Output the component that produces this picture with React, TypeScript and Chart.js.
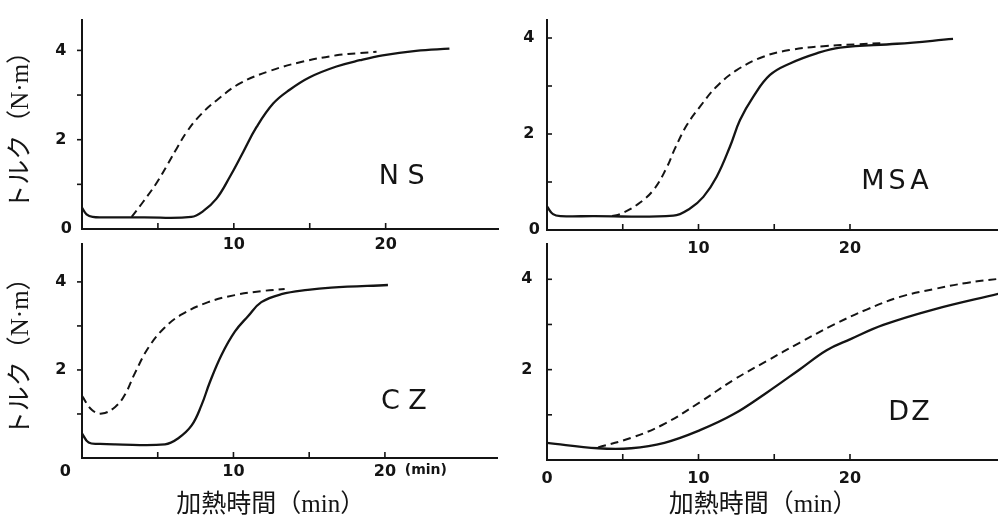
import React, { useEffect, useRef } from "react";
import { Chart, registerables } from "chart.js";

Chart.register(...registerables);

// ---------- Data (time in min, torque in N·m) ----------
// NS
const nsSolidT = [0, 0.3, 0.7, 1.5, 4, 7.2, 7.98, 8.86, 9.74, 10.61, 11.49, 12.59, 13.68, 15.0, 16.76, 18.3, 19.8, 22.0, 24.2];
const nsSolidV = [0.48, 0.33, 0.27, 0.26, 0.26, 0.27, 0.4, 0.68, 1.17, 1.72, 2.28, 2.81, 3.12, 3.4, 3.64, 3.78, 3.89, 3.99, 4.04];
const nsDashT = [3.27, 4.03, 4.91, 5.68, 6.23, 6.89, 7.76, 8.86, 10.4, 12.37, 14.56, 16.76, 18.3, 19.4];
const nsDashV = [0.27, 0.61, 1.03, 1.47, 1.8, 2.17, 2.54, 2.88, 3.26, 3.54, 3.75, 3.89, 3.94, 3.97];
// MSA
const msaSolidT = [0, 0.4, 0.9, 3, 8.34, 9.44, 10.32, 11.2, 12.08, 12.74, 13.62, 14.72, 16.04, 17.8, 19.34, 23.1, 26.8];
const msaSolidV = [0.49, 0.33, 0.29, 0.29, 0.3, 0.45, 0.69, 1.11, 1.74, 2.29, 2.78, 3.23, 3.47, 3.68, 3.8, 3.88, 3.98];
const msaDashT = [4.3, 4.82, 5.92, 7.02, 7.9, 8.45, 9.22, 10.1, 11.2, 12.52, 14.28, 16.04, 18.24, 20.5, 22.0];
const msaDashV = [0.29, 0.33, 0.52, 0.83, 1.3, 1.7, 2.18, 2.57, 2.99, 3.33, 3.61, 3.75, 3.83, 3.87, 3.89];
// CZ
const czSolidT = [0, 0.44, 1.2, 2.19, 5.48, 6.36, 7.24, 7.89, 8.44, 9.21, 10.09, 10.96, 11.84, 13.16, 14.91, 16.45, 20.2];
const czSolidV = [0.56, 0.35, 0.32, 0.31, 0.31, 0.45, 0.74, 1.2, 1.72, 2.34, 2.87, 3.22, 3.54, 3.72, 3.82, 3.87, 3.93];
const czDashT = [0, 0.66, 1.32, 2.19, 2.85, 3.51, 4.39, 5.48, 6.58, 8.33, 10.09, 11.84, 13.38];
const czDashV = [1.41, 1.09, 1.01, 1.16, 1.45, 1.94, 2.51, 2.97, 3.26, 3.54, 3.7, 3.79, 3.84];
// DZ
const dzSolidT = [0, 3.37, 5.56, 7.75, 10.1, 12.3, 14.5, 16.7, 18.46, 20.0, 22.2, 25.5, 29.8];
const dzSolidV = [0.38, 0.26, 0.26, 0.38, 0.66, 1.01, 1.49, 2.01, 2.43, 2.67, 2.99, 3.33, 3.68];
const dzDashT = [3.37, 5.56, 7.75, 10.1, 12.3, 14.5, 16.7, 18.9, 21.1, 23.3, 25.5, 27.7, 29.8];
const dzDashV = [0.28, 0.49, 0.8, 1.28, 1.77, 2.19, 2.6, 2.99, 3.33, 3.61, 3.78, 3.92, 4.01];

// Tick labels
const xTicksTop = [10, 20];
const xLabelsTop = ["10", "20"];
const xTicksCZ = [0, 10, 20, 22.7];
const xLabelsCZ = ["0", "10", "20", "(min)"];
const xTicksDZ = [0, 10, 20];
const xLabelsDZ = ["0", "10", "20"];
const yTicksTop = [0, 2, 4];
const yLabelsTop = ["0", "2", "4"];
const yTicksBottom = [2, 4];
const yLabelsBottom = ["2", "4"];
const xMarkValues = [5, 10, 15, 20];
const yMarkValues = [1, 2, 3, 4];

const panelNames = ["N S", "MSA", "C Z", "DZ"];
const yTitle = "トルク（N·m）";
const xTitle = "加熱時間（min）";

const INK = "#141414";
const TICK_FONT = "'DejaVu Sans', sans-serif";
const TITLE_FONT = "'Liberation Serif', 'Noto Sans CJK JP', serif";

type Panel = {
  left: number; top: number; width: number; height: number;
  padTop: number; padRight: number; yWidth: number; xHeight: number;
  xMax: number; yMax: number;
  solidT: number[]; solidV: number[]; dashT: number[]; dashV: number[];
  xTicks: number[]; xLabels: string[]; yTicks: number[]; yLabels: string[];
  xPad: number; yPad: number; ySide: "left" | "right";
  label: string; labelT: number; labelV: number; labelSpacing: number;
  showYTitle: boolean; xTitleText: string | null; xLabelShift: number;
};

const panels: Panel[] = [
  {
    left: 0, top: 0, width: 500, height: 262, padTop: 5, padRight: 2, yWidth: 82, xHeight: 33,
    xMax: 27.4, yMax: 4.69,
    solidT: nsSolidT, solidV: nsSolidV, dashT: nsDashT, dashV: nsDashV,
    xTicks: xTicksTop, xLabels: xLabelsTop, yTicks: yTicksTop, yLabels: yLabelsTop,
    xPad: 6, yPad: 10, ySide: "left",
    label: panelNames[0], labelT: 21.05, labelV: 1.17, labelSpacing: 0,
    showYTitle: true, xTitleText: null, xLabelShift: 0,
  },
  {
    left: 500, top: 0, width: 498, height: 262, padTop: 20, padRight: 0, yWidth: 47, xHeight: 32,
    xMax: 29.77, yMax: 4.375,
    solidT: msaSolidT, solidV: msaSolidV, dashT: msaDashT, dashV: msaDashV,
    xTicks: xTicksTop, xLabels: xLabelsTop, yTicks: yTicksTop, yLabels: yLabelsTop,
    xPad: 9, yPad: 7, ySide: "right",
    label: panelNames[1], labelT: 23.1, labelV: 1.0, labelSpacing: 4,
    showYTitle: false, xTitleText: null, xLabelShift: 0,
  },
  {
    left: 0, top: 224, width: 500, height: 300, padTop: 5, padRight: 3, yWidth: 82, xHeight: 66,
    xMax: 27.4, yMax: 4.87,
    solidT: czSolidT, solidV: czSolidV, dashT: czDashT, dashV: czDashV,
    xTicks: xTicksCZ, xLabels: xLabelsCZ, yTicks: yTicksBottom, yLabels: yLabelsBottom,
    xPad: 4, yPad: 10, ySide: "left",
    label: panelNames[2], labelT: 21.25, labelV: 1.28, labelSpacing: 0,
    showYTitle: true, xTitleText: xTitle + "\u3000\u3000", xLabelShift: 6,
  },
  {
    left: 500, top: 225, width: 498, height: 299, padTop: 5, padRight: 0, yWidth: 47, xHeight: 64,
    xMax: 29.77, yMax: 4.79,
    solidT: dzSolidT, solidV: dzSolidV, dashT: dzDashT, dashV: dzDashV,
    xTicks: xTicksDZ, xLabels: xLabelsDZ, yTicks: yTicksBottom, yLabels: yLabelsBottom,
    xPad: 9, yPad: 9, ySide: "right",
    label: panelNames[3], labelT: 23.96, labelV: 1.04, labelSpacing: 2,
    showYTitle: false, xTitleText: xTitle + "\u3000 ", xLabelShift: 0,
  },
];

const decoPlugin = {
  id: "panelDeco",
  afterDraw(chart: any, _args: any, opts: any) {
    const { ctx, chartArea } = chart;
    const xs = chart.scales.x;
    const ys = chart.scales.y;
    ctx.save();
    ctx.strokeStyle = INK;
    ctx.lineWidth = 1.6;
    for (const v of opts.xMarks as number[]) {
      const px = xs.getPixelForValue(v);
      ctx.beginPath();
      ctx.moveTo(px, chartArea.bottom);
      ctx.lineTo(px, chartArea.bottom - 6);
      ctx.stroke();
    }
    for (const v of opts.yMarks as number[]) {
      if (v > ys.max) continue;
      const py = ys.getPixelForValue(v);
      const x0 = chartArea.left;
      ctx.beginPath();
      ctx.moveTo(x0, py);
      ctx.lineTo(opts.ySide === "left" ? x0 - 5 : x0 + 5, py);
      ctx.stroke();
    }
    ctx.fillStyle = INK;
    ctx.font = "27px 'DejaVu Sans', sans-serif";
    (ctx as any).letterSpacing = opts.labelSpacing + "px";
    ctx.textAlign = "center";
    ctx.textBaseline = "middle";
    ctx.fillText(opts.label, xs.getPixelForValue(opts.labelT), ys.getPixelForValue(opts.labelV));
    ctx.restore();
  },
};

function toPoints(t: number[], v: number[]) {
  return t.map((x, i) => ({ x, y: v[i] }));
}

function PanelChart({ p }: { p: Panel }) {
  const ref = useRef<HTMLCanvasElement | null>(null);
  useEffect(() => {
    if (!ref.current) return;
    const chart = new Chart(ref.current, {
      type: "line",
      data: {
        datasets: [
          {
            data: toPoints(p.solidT, p.solidV),
            borderColor: INK,
            borderWidth: 2.3,
            pointRadius: 0,
            tension: 0.4,
            fill: false,
          },
          {
            data: toPoints(p.dashT, p.dashV),
            borderColor: INK,
            borderWidth: 2,
            borderDash: [8, 5],
            pointRadius: 0,
            tension: 0.4,
            fill: false,
          },
        ],
      },
      options: {
        responsive: false,
        animation: false,
        devicePixelRatio: 1,
        layout: { padding: { left: 0, top: p.padTop, right: p.padRight, bottom: 0 } },
        plugins: {
          legend: { display: false },
          tooltip: { enabled: false },
          panelDeco: {
            xMarks: xMarkValues,
            yMarks: yMarkValues,
            ySide: p.ySide,
            label: p.label,
            labelT: p.labelT,
            labelV: p.labelV,
            labelSpacing: p.labelSpacing,
          },
        } as any,
        scales: {
          x: {
            type: "linear",
            min: 0,
            max: p.xMax,
            position: "bottom",
            afterBuildTicks: (s: any) => {
              s.ticks = p.xTicks.map((v) => ({ value: v }));
            },
            afterFit: (s: any) => {
              s.height = p.xHeight;
            },
            ticks: {
              autoSkip: false,
              maxRotation: 0,
              padding: p.xPad,
              color: INK,
              callback: (_v: any, i: number) => {
                const lab = p.xLabels[i];
                if (p.xLabelShift && lab === "0") return lab + " ".repeat(p.xLabelShift);
                return lab;
              },
              font: (c: any) =>
                p.xLabels[c.index] === "(min)"
                  ? { family: TICK_FONT, size: 14, weight: "bold" }
                  : { family: TICK_FONT, size: 16, weight: "bold" },
            },
            grid: { display: false, drawTicks: false },
            border: { display: true, color: INK, width: 2 },
            title: p.xTitleText
              ? {
                  display: true,
                  text: p.xTitleText,
                  color: INK,
                  font: { family: TITLE_FONT, size: 25 },
                  padding: { top: 0, bottom: 4 },
                }
              : { display: false },
          },
          y: {
            type: "linear",
            min: 0,
            max: p.yMax,
            afterBuildTicks: (s: any) => {
              s.ticks = p.yTicks.map((v) => ({ value: v }));
            },
            afterFit: (s: any) => {
              s.width = p.yWidth;
            },
            ticks: {
              autoSkip: false,
              padding: p.yPad,
              color: INK,
              callback: (_v: any, i: number) => {
                const lab = p.yLabels[i];
                return lab === "0" ? lab : lab + " ";
              },
              font: { family: TICK_FONT, size: 16, weight: "bold" },
            },
            grid: { display: false, drawTicks: false },
            border: { display: true, color: INK, width: 2 },
            title: p.showYTitle
              ? {
                  display: true,
                  text: yTitle,
                  color: INK,
                  font: { family: TITLE_FONT, size: 25 },
                  padding: { top: 6, bottom: 0 },
                }
              : { display: false },
          },
        },
      } as any,
      plugins: [decoPlugin],
    });
    return () => chart.destroy();
  }, [p]);
  return (
    <canvas
      ref={ref}
      width={p.width}
      height={p.height}
      style={{ position: "absolute", left: p.left, top: p.top, width: p.width, height: p.height }}
    />
  );
}

export default function App() {
  return (
    <div
      style={{
        position: "absolute",
        left: 0,
        top: 0,
        width: 998,
        height: 524,
        background: "#ffffff",
        overflow: "hidden",
      }}
    >
      {panels.map((p, i) => (
        <PanelChart key={i} p={p} />
      ))}
    </div>
  );
}
